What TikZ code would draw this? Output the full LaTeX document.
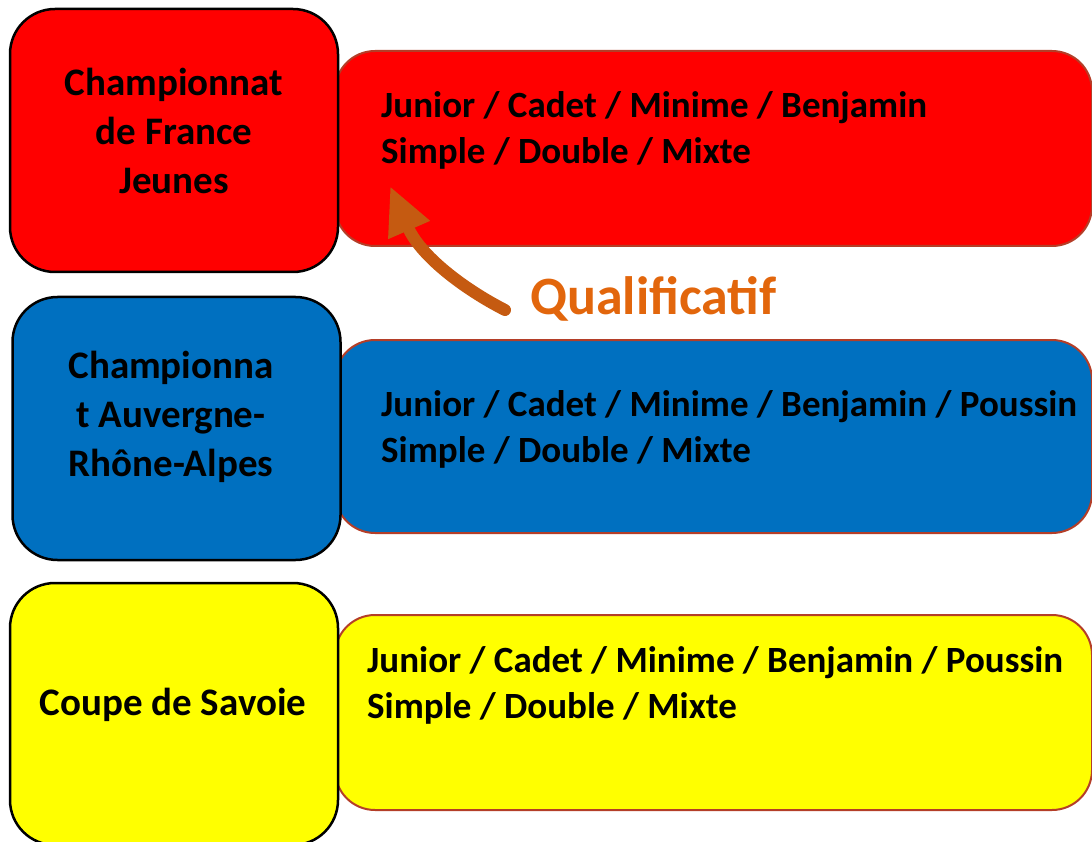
\documentclass[tikz,border=0pt]{standalone}
\usepackage{fontspec}
\setmainfont{Carlito}
\usepackage{tikz}
\usetikzlibrary{arrows.meta}
\definecolor{cfjred}{RGB}{255,0,0}
\definecolor{arablue}{RGB}{0,112,192}
\definecolor{savyellow}{RGB}{255,255,0}
\definecolor{rimbrown}{RGB}{180,62,40}
\definecolor{qualorange}{RGB}{226,102,12}
\definecolor{arroworange}{RGB}{197,90,17}
\tikzset{lb/.style={draw=black,line width=2.5pt,rounded corners=45pt,minimum width=328pt,inner sep=0pt}}
\tikzset{rb/.style={draw=rimbrown,line width=2pt,rounded corners=40pt,minimum width=757pt,inner sep=0pt}}
\tikzset{lt/.style={align=center,inner sep=0pt,font=\fontsize{39}{49}\selectfont\bfseries}}
\tikzset{rt/.style={align=left,anchor=west,inner sep=0pt,font=\fontsize{37}{46}\selectfont\bfseries}}

\begin{document}
\begin{tikzpicture}[x=1pt,y=-1pt]
            \clip (0,0) rectangle (1092,842);
            \node[rb, fill=cfjred, minimum height=195pt] (cfjR) at (713.5,148.5) {};
            \node[rb, fill=arablue, minimum height=193pt] (araR) at (713.5,436.5) {};
            \node[rb, fill=savyellow, minimum height=195pt] (savR) at (713.5,712.5) {};
            \node[lb, fill=cfjred, minimum height=263pt] (cfj) at (174,140.5) {};
            \node[lb, fill=arablue, minimum height=263pt] (ara) at (176.5,428.5) {};
            \node[lb, fill=savyellow, minimum height=262pt] (sav) at (174,714) {};
            \node[lt] (cfjtxt) at (174,131) {Championnat\\de France\\Jeunes};
            \node[lt] (aratxt) at (171,416.5) {Championna\\t Auvergne-\\Rhône-Alpes};
            \node[lt] (savtxt) at (173,705) {Coupe de Savoie};
            \node[rt] (cfjcat) at (381,130) {Junior / Cadet / Minime / Benjamin\\Simple / Double / Mixte};
            \node[rt] (aracat) at (381,429) {Junior / Cadet / Minime / Benjamin / Poussin\\Simple / Double / Mixte};
            \node[rt] (savcat) at (367,685) {Junior / Cadet / Minime / Benjamin / Poussin\\Simple / Double / Mixte};
            \node[anchor=base west, inner sep=0pt, text=qualorange, font=\fontsize{54}{54}\selectfont\bfseries] (qual) at (530,315) {Qualificatif};
            \coordinate (qtail) at (505,310);
            \coordinate (qtip) at (390,186);
            \draw[arroworange, line width=12pt, line cap=round, -{Triangle[length=48pt,width=42pt]}]
              (qtail) .. controls (462,288) and (420,255) .. (qtip);
          \end{tikzpicture}
\end{document}
